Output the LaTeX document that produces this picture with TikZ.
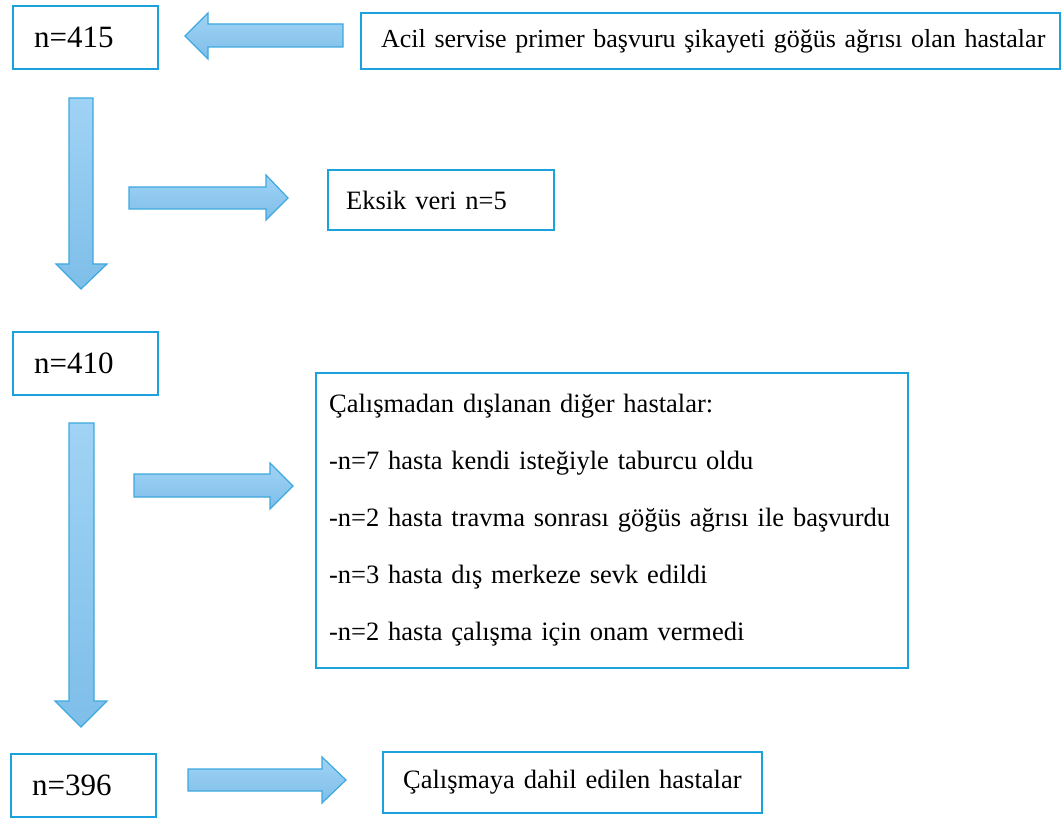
\documentclass[tikz,border=0pt]{standalone}
\usepackage{fontspec}
\setmainfont{Liberation Serif}
\definecolor{boxline}{HTML}{1BA1DB}
\definecolor{arrline}{HTML}{3DA9DE}
\definecolor{arrtop}{HTML}{A0D3F5}
\definecolor{arrbot}{HTML}{7EBEE9}
\tikzset{
  flowbox/.style={draw=boxline, line width=2.2pt, fill=white, anchor=north west, inner ysep=0pt, align=left},
  bigno/.style={font=\fontsize{31}{36}\selectfont},
  bodytxt/.style={font=\fontsize{26.5}{30}\selectfont},
  blockarrow/.style={draw=arrline, line width=1.2pt, top color=arrtop, bottom color=arrbot, line join=miter},
}
\begin{document}
\begin{tikzpicture}[x=1pt,y=-1pt]
\useasboundingbox (0,0) rectangle (1061,818);
% boxes
\node[flowbox, bigno, minimum height=63pt, text width=103pt, inner xsep=21pt] (b415) at (12,5) {n=415};
\node[flowbox, font=\fontsize{26}{30}\selectfont, minimum height=56pt, text width=659pt, inner xsep=20pt] (top) at (360,12) {\mbox{Acil servise primer başvuru şikayeti göğüs ağrısı olan hastalar}};
\node[flowbox, bodytxt, minimum height=60pt, text width=190pt, inner xsep=18pt] (eksik) at (327,169) {\mbox{Eksik veri n=5}};
\node[flowbox, bigno, minimum height=63pt, text width=103pt, inner xsep=21pt] (b410) at (12,331) {n=410};
\node[flowbox, bodytxt, minimum height=295pt, text width=566pt, inner xsep=13pt] (excl) at (315,372) {%
Çalışmadan dışlanan diğer hastalar:\\[27pt]
-n=7 hasta kendi isteğiyle taburcu oldu\\[27pt]
-n=2 hasta travma sonrası göğüs ağrısı ile başvurdu\\[27pt]
-n=3 hasta dış merkeze sevk edildi\\[27pt]
-n=2 hasta çalışma için onam vermedi};
\node[flowbox, bigno, minimum height=63pt, text width=103pt, inner xsep=21pt] (b396) at (10,753) {n=396};
\node[flowbox, bodytxt, minimum height=61pt, text width=339pt, inner xsep=20pt] (incl) at (382,751) {\mbox{Çalışmaya dahil edilen hastalar}};
% block arrows
\draw[blockarrow] (343,24) -- (208,24) -- (208,13) -- (185,36) -- (208,59) -- (208,47) -- (343,47) -- cycle;
\draw[blockarrow] (69,98) -- (93,98) -- (93,264) -- (107,264) -- (81,289) -- (56,264) -- (69,264) -- cycle;
\draw[blockarrow] (129,187) -- (266,187) -- (266,175) -- (288,198) -- (266,220) -- (266,209) -- (129,209) -- cycle;
\draw[blockarrow] (69,423) -- (94,423) -- (94,701) -- (107,701) -- (81,727) -- (55,701) -- (69,701) -- cycle;
\draw[blockarrow] (134,474) -- (270,474) -- (270,463) -- (293,486) -- (270,509) -- (270,497) -- (134,497) -- cycle;
\draw[blockarrow] (188,769) -- (322,769) -- (322,757) -- (346,780) -- (322,803) -- (322,791) -- (188,791) -- cycle;
\end{tikzpicture}
\end{document}
